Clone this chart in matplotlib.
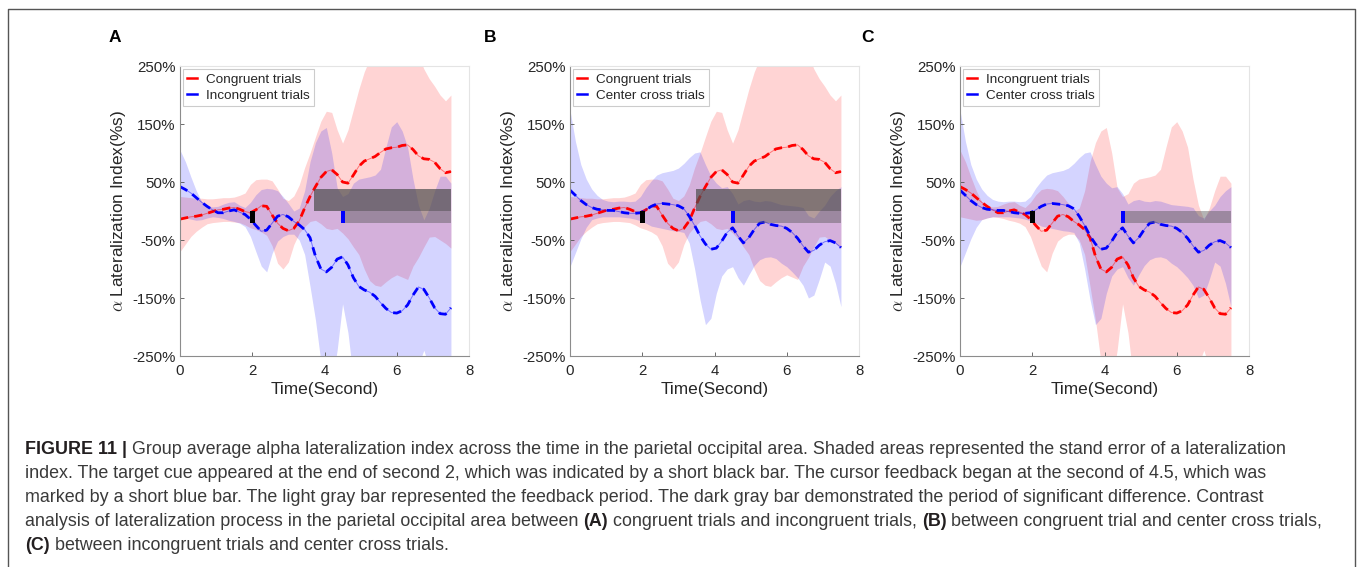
import numpy as np
import matplotlib
matplotlib.use('Agg')
import matplotlib.pyplot as plt
from matplotlib import font_manager
from matplotlib.lines import Line2D
from matplotlib.patches import Rectangle

plt.rcParams['font.family'] = ['Liberation Sans', 'DejaVu Sans']
plt.rcParams['mathtext.fontset'] = 'cm'

# time axis (seconds), one sample every 0.15 s
time = np.linspace(0, 7.5, 51)

# congruent trials: mean and standard-error band (%)
congruent_mean = [-14, -12, -10, -9, -7, -4, -1, 2, 3, 5,
                  6, 3, -1, -3, 2, 9, 8, -7, -21, -30,
                  -34, -30, -17, 5, 25, 42, 58, 68, 71, 63,
                  50, 48, 62, 77, 86, 90, 94, 101, 107, 109,
                  110, 113, 114, 106, 95, 90, 89, 84, 73, 66,
                  68]
congruent_hi = [25, 24, 23, 22, 22, 21, 21, 22, 23, 23,
                24, 27, 31, 46, 54, 55, 55, 52, 38, 22,
                18, 26, 45, 75, 100, 128, 155, 172, 170, 140,
                117, 140, 175, 210, 240, 262, 282, 295, 305, 315,
                320, 315, 300, 285, 268, 245, 228, 215, 200, 190,
                200]
congruent_lo = [-70, -57, -44, -35, -28, -22, -20, -19, -18, -18,
                -19, -20, -24, -29, -32, -36, -42, -60, -90, -100,
                -88, -58, -38, -27, -18, -16, -22, -30, -32, -30,
                -38, -48, -62, -75, -100, -120, -128, -130, -122, -115,
                -110, -114, -118, -95, -80, -62, -45, -44, -50, -56,
                -64]

# incongruent trials
incongruent_mean = [42, 37, 31, 23, 15, 8, 2, -3, -3, 0,
                    2, -2, -6, -14, -25, -35, -33, -21, -9, -6,
                    -10, -18, -24, -32, -46, -78, -100, -105, -97, -83,
                    -79, -93, -115, -130, -136, -140, -147, -158, -168, -175,
                    -176, -172, -162, -145, -131, -135, -150, -167, -177, -178,
                    -167]
incongruent_hi = [105, 85, 59, 35, 16, 9, 7, 8, 12, 15,
                  16, 10, 6, 15, 28, 37, 39, 38, 35, 25,
                  13, 0, 5, 35, 85, 118, 138, 144, 100, 40,
                  25, 30, 48, 55, 57, 59, 62, 72, 110, 145,
                  154, 138, 110, 55, 10, -15, 5, 35, 60, 60,
                  48]
incongruent_lo = [-10, -12, -14, -16, -15, -12, -10, -11, -13, -16,
                  -18, -21, -27, -44, -70, -95, -105, -73, -52, -44,
                  -40, -40, -50, -75, -130, -188, -260, -300, -300, -240,
                  -160, -210, -290, -310, -310, -310, -310, -310, -310, -310,
                  -310, -310, -310, -300, -265, -240, -270, -300, -310, -310,
                  -310]

# center cross trials
center_mean = [36, 27, 18, 11, 6, 3, 2, 1, 1, -1,
               -3, -4, -4, -3, 2, 8, 12, 13, 12, 11,
               9, 4, -9, -25, -43, -57, -66, -64, -52, -37,
               -29, -43, -55, -46, -32, -21, -19, -23, -25, -26,
               -30, -37, -47, -60, -71, -68, -59, -53, -51, -55,
               -63]
center_hi = [174, 120, 80, 55, 38, 27, 20, 17, 16, 17,
             17, 16, 17, 25, 40, 52, 62, 66, 68, 70,
             74, 82, 92, 100, 102, 80, 60, 48, 40, 42,
             30, 12, 18, 20, 17, 16, 18, 17, 14, 11,
             10, 9, 8, 6, -8, -12, 0, 10, 25, 35,
             42]
center_lo = [-96, -72, -48, -28, -15, -12, -10, -10, -10, -10,
             -11, -12, -14, -17, -21, -26, -28, -30, -32, -34,
             -35, -37, -55, -100, -153, -196, -185, -142, -112, -100,
             -96, -115, -128, -110, -94, -84, -80, -79, -82, -90,
             -96, -105, -115, -128, -150, -145, -118, -88, -95, -125,
             -165]

# events (seconds) and bar levels (%)
cue_time = 2.0
feedback_time = 4.5
trial_end = 7.5
sig_start = [3.7, 3.5, None]   # start of significant difference, per panel
sig_top = 38
feedback_low = -20

panel_letters = ['A', 'B', 'C']
red_series = [(congruent_mean, congruent_lo, congruent_hi, 'Congruent trials'),
              (congruent_mean, congruent_lo, congruent_hi, 'Congruent trials'),
              (incongruent_mean, incongruent_lo, incongruent_hi, 'Incongruent trials')]
blue_series = [(incongruent_mean, incongruent_lo, incongruent_hi, 'Incongruent trials'),
               (center_mean, center_lo, center_hi, 'Center cross trials'),
               (center_mean, center_lo, center_hi, 'Center cross trials')]

W, H = 1358, 567
fig = plt.figure(figsize=(W / 100, H / 100), dpi=100)

axes_left = [180, 570, 960]
letter_x = [115, 490, 868]
ax_w, ax_top, ax_bottom = 289, 66, 356

for i in range(3):
    ax = fig.add_axes([axes_left[i] / W, 1 - ax_bottom / H, ax_w / W, (ax_bottom - ax_top) / H])
    handles = []
    for (mean, lo, hi, label), col in [(red_series[i], 'red'), (blue_series[i], 'blue')]:
        ax.fill_between(time, lo, hi, color=col, alpha=0.17, lw=0)
    for (mean, lo, hi, label), col in [(red_series[i], '#ff0000'), (blue_series[i], '#0000ff')]:
        ax.plot(time, mean, color=col, lw=0.7, alpha=0.45)
        ax.plot(time, mean, color=col, lw=2.0, dashes=(3, 2.2))
        handles.append(Line2D([], [], color=col, lw=1.8, label=label))

    # significance / feedback bars and event markers
    if sig_start[i] is not None:
        ax.add_patch(Rectangle((sig_start[i], 0), trial_end - sig_start[i], sig_top,
                               facecolor='#4d4d4d', alpha=0.7, lw=0, zorder=3))
    ax.add_patch(Rectangle((feedback_time, feedback_low), trial_end - feedback_time, -feedback_low,
                           facecolor='#595959', alpha=0.45, lw=0, zorder=3))
    ax.add_patch(Rectangle((cue_time - 0.05, feedback_low), 0.12, -feedback_low,
                           facecolor='black', lw=0, zorder=4))
    ax.add_patch(Rectangle((feedback_time - 0.05, feedback_low), 0.12, -feedback_low,
                           facecolor='#0000ff', lw=0, zorder=4))

    ax.set_xlim(0, 8)
    ax.set_ylim(-250, 250)
    ax.set_xticks([0, 2, 4, 6, 8])
    yt = [-250, -150, -50, 50, 150, 250]
    ax.set_yticks(yt)
    ax.set_yticklabels([f'{v}%' for v in yt])
    ax.tick_params(direction='in', length=3, width=0.6, color='#555555',
                   labelcolor='#262626', labelsize=10.8)
    ax.tick_params(axis='x', pad=6)
    ax.tick_params(axis='y', pad=3)
    for s in ['top', 'right']:
        ax.spines[s].set_color('#e4e4e4')
        ax.spines[s].set_linewidth(0.8)
    for s in ['left', 'bottom']:
        ax.spines[s].set_color('#8c8c8c')
        ax.spines[s].set_linewidth(0.8)

    ax.set_xlabel('Time(Second)', fontsize=12.4, color='#262626')
    ax.xaxis.set_label_coords(0.5, -0.088)
    ax.set_ylabel(r'$\alpha$ Lateralization Index(%s)', fontsize=12.4, color='#262626')
    ax.yaxis.set_label_coords(-0.18, 0.5)

    leg = ax.legend(handles=handles, loc='upper left', fontsize=9.7, handlelength=0.7,
                    handletextpad=0.7, labelspacing=0.25, borderpad=0.3,
                    borderaxespad=0.25, fancybox=False, framealpha=1)
    leg.get_frame().set_edgecolor('#cccccc')
    leg.get_frame().set_linewidth(0.8)
    for t in leg.get_texts():
        t.set_color('#262626')

    fig.text(letter_x[i] / W, 1 - 38 / H, panel_letters[i], fontsize=12.5,
             fontweight='bold', ha='center', va='center')

# border around the figure block (open at the bottom)
bx0, bx1, by0 = 8 / W, 1355 / W, 1 - 9 / H
fig.add_artist(Line2D([bx0, bx0, bx1, bx1], [0, by0, by0, 0], transform=fig.transFigure,
                      color='#555555', lw=1.0))

# caption
names = {f.name for f in font_manager.fontManager.ttflist}
cap_family = 'Liberation Sans Narrow' if 'Liberation Sans Narrow' in names else 'Liberation Sans'
caption_lines = [
    [('FIGURE 11 |', True), ('Group average alpha lateralization index across the time in the parietal '
                            'occipital area. Shaded areas represented the stand error of a lateralization', False)],
    [('index. The target cue appeared at the end of second 2, which was indicated by a short black bar. '
      'The cursor feedback began at the second of 4.5, which was', False)],
    [('marked by a short blue bar. The light gray bar represented the feedback period. The dark gray bar '
      'demonstrated the period of significant difference. Contrast', False)],
    [('analysis of lateralization process in the parietal occipital area between', False), ('(A)', True),
     ('congruent trials and incongruent trials,', False), ('(B)', True),
     ('between congruent trial and center cross trials,', False)],
    [('(C)', True), ('between incongruent trials and center cross trials.', False)],
]
cap_size = 12.9
fig.canvas.draw()
renderer = fig.canvas.get_renderer()


def text_width(s, bold):
    t = fig.text(0, 0, s, fontsize=cap_size, family=cap_family,
                 fontweight='bold' if bold else 'normal')
    w = t.get_window_extent(renderer).width
    t.remove()
    return w


space_w = text_width('x x', False) - text_width('xx', False)
line_y = [450, 474, 498, 522, 546]
for segs, y in zip(caption_lines, line_y):
    x = 25.0
    for s, bold in segs:
        fig.text(x / W, 1 - y / H, s, fontsize=cap_size, family=cap_family,
                 fontweight='bold' if bold else 'normal', va='center', ha='left',
                 color='#231f20' if bold else '#3a3a3a')
        x += text_width(s, bold) + space_w

fig.savefig('out.png', dpi=100)
